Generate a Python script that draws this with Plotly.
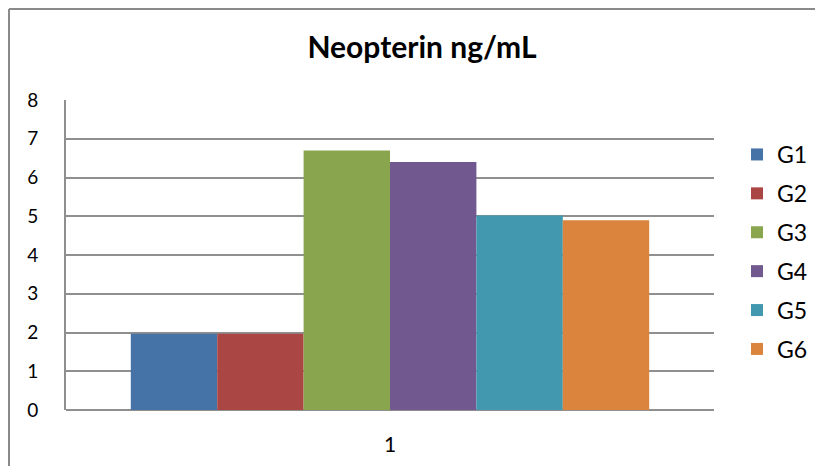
import plotly.graph_objects as go

categories = ["1"]
groups = ["G1", "G2", "G3", "G4", "G5", "G6"]
values = [1.97, 1.97, 6.70, 6.40, 5.02, 4.90]
colors = ["#4572A7", "#AA4643", "#89A54E", "#71588F", "#4198AF", "#DB843D"]
y_ticks = [0, 1, 2, 3, 4, 5, 6, 7, 8]

fig = go.Figure()
for g, v, c in zip(groups, values, colors):
    fig.add_trace(go.Bar(x=categories, y=[v], name=g, marker=dict(color=c, line=dict(width=0)),
                         legendgroup=g))

# page offset (body margin) of 8px on every side
OX, OY = 8, 8
W, H = 823 - 2 * OX, 474 - 2 * OY
L = 66 - OX
T = 100 - OY
R = W - (714 - OX)
B = H - (410 - OY)
pw, ph = W - L - R, H - T - B

def px(x):
    return (x - OX - L) / pw

def py(y):
    return (H - B - (y - OY)) / ph

fig.update_layout(
    width=W, height=H,
    margin=dict(l=L, r=R, t=T, b=B, autoexpand=False),
    paper_bgcolor="white", plot_bgcolor="white",
    barmode="group", bargap=0.2, bargroupgap=0,
    font=dict(family="Lato, Noto Sans, sans-serif", size=19, color="black"),
    title=dict(text="<b>Neopterin ng/mL</b>", x=px(422), xanchor="center", xref="paper",
               y=1 - (47 - OY) / H, yanchor="middle", font=dict(size=30, color="black")),
    xaxis=dict(showgrid=False, showline=False, zeroline=False, ticks="",
               tickfont=dict(size=21), ticklabelstandoff=20),
    yaxis=dict(range=[0, 8], tickvals=y_ticks, showgrid=True, gridcolor="#8f8f8f", gridwidth=2,
               showline=True, linecolor="#8f8f8f", linewidth=2, zeroline=True,
               zerolinecolor="#8f8f8f", zerolinewidth=2, ticks="", ticklabelstandoff=22,
               tickfont=dict(size=19)),
    legend=dict(x=px(813), y=py(133), xanchor="right", yanchor="top",
                font=dict(size=23), tracegroupgap=6, bgcolor="rgba(0,0,0,0)",
                itemwidth=30),
    showlegend=True,
)

border = dict(color="#8a8a8a", width=2)
fig.add_shape(type="line", xref="paper", yref="paper",
              x0=px(9), x1=px(823), y0=py(9), y1=py(9), line=border, layer="below")
fig.add_shape(type="line", xref="paper", yref="paper",
              x0=px(9), x1=px(9), y0=py(9), y1=py(474), line=border, layer="below")

fig.write_html("out.html")
